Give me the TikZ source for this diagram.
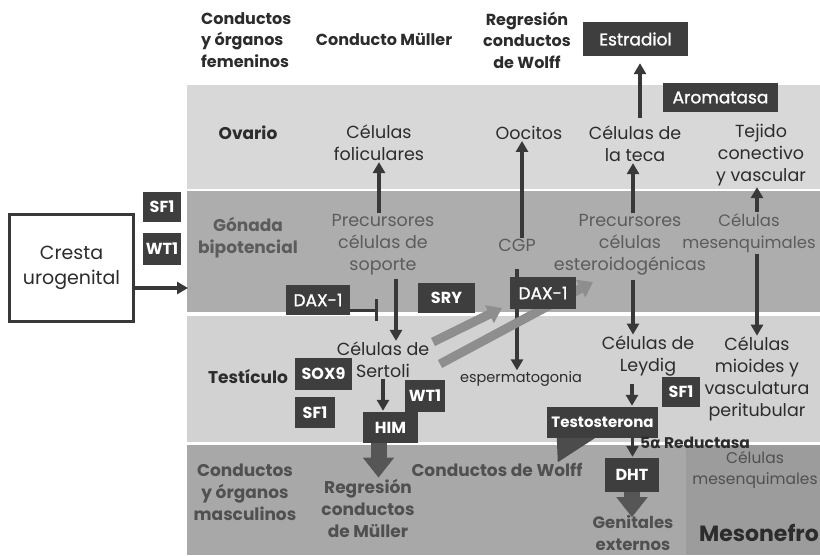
\documentclass[tikz,border=0pt]{standalone}
\usepackage{fontspec}
\setmainfont{Poppins}
\newfontfamily\dejavu{DejaVu Sans}
\newfontfamily\medf[FakeBold=1.3]{Poppins}
\usetikzlibrary{arrows.meta}
\definecolor{bandA}{HTML}{D8D8D8}
\definecolor{bandB}{HTML}{ADADAD}
\definecolor{bandT}{HTML}{D2D2D2}
\definecolor{bandC}{HTML}{A8A8A8}
\definecolor{bandD}{HTML}{9C9C9C}
\definecolor{boxc}{HTML}{3E3E3E}
\definecolor{arrc}{HTML}{383838}
\definecolor{txtA}{HTML}{2C2C2C}
\definecolor{txtB}{HTML}{5C5C5C}
\definecolor{txtC}{HTML}{505050}
\definecolor{grayar}{HTML}{8E8E8E}
\begin{document}
\begin{tikzpicture}[x=1pt,y=-1pt,
  lbl/.style={align=center, inner sep=1pt, text=txtA, font=\fontsize{17.5}{22}\selectfont},
  blbl/.style={lbl, font=\bfseries\fontsize{17}{22}\selectfont},
  tlbl/.style={lbl, font=\bfseries\fontsize{16}{21.5}\selectfont},
  dbox/.style={fill=boxc, text=white, inner sep=0pt, font=\bfseries\fontsize{16}{16}\selectfont},
  rbox/.style={dbox, font=\medf\fontsize{17}{17}\selectfont},
  arr/.style={line width=3.5pt, draw=arrc, -{Triangle[width=12pt,length=11pt]}},
  blockarr/.style={draw=#1, -{Triangle[width=30pt,length=20pt]}, line width=16pt},
  grayarrow/.style={draw=grayar, line width=9pt, -{Triangle[width=19pt,length=14pt]}},
  inhib/.style={line width=3pt, draw=arrc, -{Bar[width=22pt]}}
]
\useasboundingbox (0,0) rectangle (820,555);
% bands
\fill[bandA] (187,85) rectangle (820,190);
\fill[bandB] (187,190) rectangle (820,313);
\fill[bandT] (187,313) rectangle (820,442);
\fill[bandC] (187,442) rectangle (820,555);
\fill[bandD] (686,445) rectangle (820,555);
\draw[white, line width=2pt] (187,190) -- (820,190);
\draw[white, line width=4pt] (187,314) -- (820,314);
\draw[white, line width=3pt] (187,443) -- (820,443);

% left
\node[draw=arrc, line width=3pt, fill=white, minimum width=124pt, minimum height=107pt, align=center, text=txtA,
      font=\fontsize{19}{25}\selectfont] (cresta) at (71.5,268) {Cresta\\urogenital};
\node[dbox, minimum width=38pt, minimum height=30pt] (sf1a) at (162,207) {SF1};
\node[dbox, minimum width=38pt, minimum height=32pt] (wt1a) at (162,249) {WT1};
\coordinate (bandin) at (188,288);
\draw[arr] (cresta.east |- bandin) -- (bandin);

% top labels
\node[tlbl, align=left, anchor=west] (condfem) at (200,40) {Conductos\\y órganos\\femeninos};
\node[tlbl] (conmul) at (384,39) {Conducto Müller};
\node[tlbl] (regwolff) at (527,40) {Regresión\\conductos\\de Wolff};
\node[rbox, minimum width=105pt, minimum height=34pt] (estradiol) at (635.5,39) {Estradiol};
\node[rbox, minimum width=115pt, minimum height=29pt] (aromatasa) at (720.5,97.5) {Aromatasa};

% ovario band
\node[blbl] (ovario) at (248,133) {Ovario};
\node[lbl] (celfol) at (379,143) {Células\\foliculares};
\node[lbl] (oocitos) at (529,133) {Oocitos};
\node[lbl] (celteca) at (635,144) {Células de\\la teca};
\node[lbl] (tejido) at (761,155) {Tejido\\conectivo\\y vascular};

% gonada band
\node[blbl, text=txtB] (gonada) at (248,238) {Gónada\\bipotencial};
\node[lbl, text=txtB] (precsop) at (383,245) {Precursores\\células de\\soporte};
\node[lbl, text=txtB] (cgp) at (517,245) {CGP};
\node[lbl, text=txtB] (precest) at (630,245) {Precursores\\células\\esteroidogénicas};
\node[lbl, text=txtB, font=\fontsize{16.5}{22}\selectfont] (celmes) at (749,233) {Células\\mesenquimales};

% testiculo band
\node[lbl] (celsert) at (383,360) {Células de\\Sertoli};
\node[blbl] (testiculo) at (248,377) {Testículo};
\node[lbl, font=\fontsize{14.5}{16}\selectfont] (esperm) at (521,379) {espermatogonia};
\node[lbl] (celley) at (648,356) {Células de\\Leydig};
\node[lbl] (mioides) at (757,379) {Células\\mioides y\\vasculatura\\peritubular};

% conductos band
\node[blbl, text=txtC] (condmasc) at (245,492) {Conductos\\y órganos\\masculinos};
\node[blbl, text=txtC] (regmul) at (368,508) {Regresión\\conductos\\de Müller};
\node[blbl, text=txtC] (condwolff) at (497,470) {Conductos de Wolff};
\node[blbl, text=txtC, font=\bfseries\fontsize{16.5}{22}\selectfont] (genext) at (633,533) {Genitales\\externos};
\node[lbl, text=txtC, font=\fontsize{15.5}{21}\selectfont] (celmes2) at (755,470) {Células\\mesenquimales};
\node[blbl, text=txtA, font=\bfseries\fontsize{22}{24}\selectfont] (mesonefro) at (759,533) {Mesonefro};

% arrows (drawn before boxes)
\draw[arr] (precsop.north -| celfol.south) -- (celfol.south);
\draw[arr] ([xshift=5pt]cgp.north) -- ([xshift=5pt]cgp.north |- oocitos.south);
\draw[arr] ([xshift=3pt]precest.north) -- ([xshift=3pt]precest.north |- celteca.south);
\draw[arr] ([xshift=8pt]celmes.north) -- ([xshift=8pt]celmes.north |- tejido.south);
\draw[arr] ([xshift=5pt,yshift=7pt]celteca.north) -- ([xshift=5pt,yshift=-7pt]celteca.north |- estradiol.south);
\draw[arr] ([xshift=13pt,yshift=-2pt]precsop.south) -- ([xshift=13pt]precsop.south |- celsert.north);
\draw[arr] ([yshift=-17pt]cgp.south) -- (esperm.north -| cgp.south);
\draw[arr] ([xshift=3pt,yshift=-3pt]precest.south) -- ([xshift=3pt]precest.south |- celley.north);
\draw[arr] ([xshift=8pt]celmes.south) -- ([xshift=8pt]celmes.south |- mioides.north);

% gray arrows
\coordinate (gr1s) at (433,342); \coordinate (gr1e) at (502,308);
\coordinate (gr2s) at (440,364); \coordinate (gr2e) at (593,282);
\draw[grayarrow] (gr1s) -- (gr1e);
\draw[grayarrow] (gr2s) -- (gr2e);

% boxes
\node[rbox, minimum width=64pt, minimum height=30pt] (dax1a) at (318,300) {DAX-1};
\node[dbox, minimum width=57pt, minimum height=30pt] (sry) at (446.5,298) {SRY};
\node[rbox, minimum width=66pt, minimum height=32pt] (dax1b) at (543,293) {DAX-1};
\node[dbox, minimum width=57pt, minimum height=32pt] (sox9) at (323.5,374) {SOX9};
\node[dbox, minimum width=40pt, minimum height=31pt] (sf1b) at (315,412.5) {SF1};
\node[dbox, minimum width=40pt, minimum height=32pt] (wt1b) at (425,396) {WT1};
\node[dbox, minimum width=55pt, minimum height=31pt] (him) at (390.5,427.5) {HIM};
\node[dbox, minimum width=38pt, minimum height=30pt] (sf1c) at (681,392) {SF1};
\node[dbox, minimum width=111pt, minimum height=31pt, font=\bfseries\fontsize{15}{15}\selectfont] (testo) at (602.5,422.5) {Testosterona};
\node[dbox, minimum width=54pt, minimum height=34pt] (dht) at (632,475) {DHT};
\node[blbl, font=\bfseries\fontsize{15.5}{16}\selectfont, inner sep=0pt] (reduct) at (695,443) {5{\dejavu\bfseries α} Reductasa};

% inhibition
\coordinate (inhend) at (378,310);
\draw[inhib] (dax1a.east |- inhend) -- (inhend);

% arrows between boxes
\draw[arr] (celsert.south) -- ([yshift=1pt]celsert.south |- him.north);
\draw[arr] ([xshift=-16pt,yshift=-7pt]celley.south) -- ([xshift=-16pt,yshift=1pt]celley.south |- testo.north);
\draw[arr] ([xshift=30pt]testo.south) -- ([xshift=30pt,yshift=1pt]testo.south |- dht.north);
\draw[blockarr=arrc!85] ([xshift=-12pt]him.south) -- ([xshift=-12pt]him.south |- regmul.north);
\draw[blockarr=arrc!85] (dht.south) -- ([yshift=-25pt]dht.south);
\fill[arrc!90] ([xshift=10pt]testo.south west) -- ([xshift=48pt]testo.south west) -- ([xshift=11pt,yshift=-24pt]testo.south west) -- cycle;
\end{tikzpicture}
\end{document}
